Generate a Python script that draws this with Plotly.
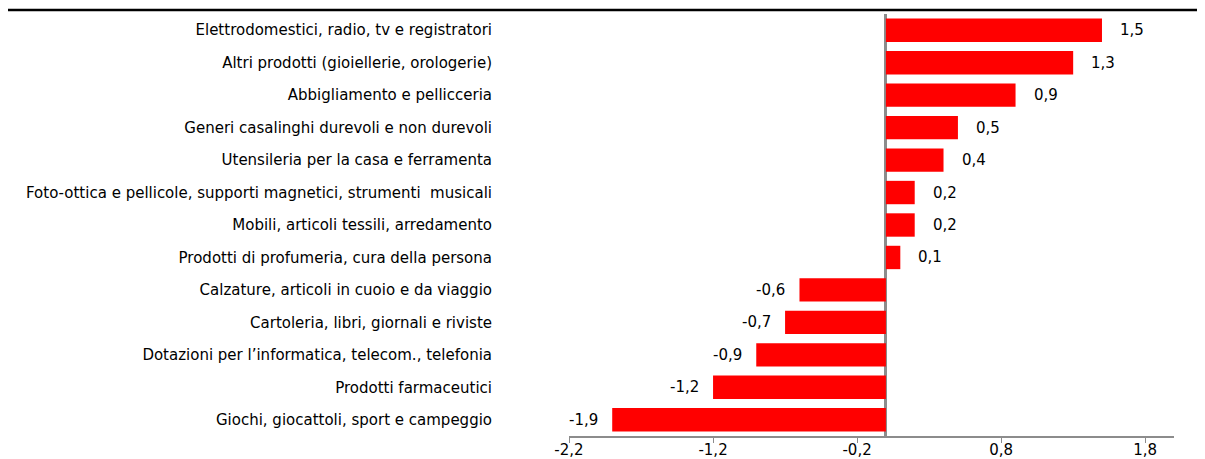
import plotly.graph_objects as go

categories = [
    "Elettrodomestici, radio, tv e registratori",
    "Altri prodotti (gioiellerie, orologerie)",
    "Abbigliamento e pellicceria",
    "Generi casalinghi durevoli e non durevoli",
    "Utensileria per la casa e ferramenta",
    "Foto-ottica e pellicole, supporti magnetici, strumenti  musicali",
    "Mobili, articoli tessili, arredamento",
    "Prodotti di profumeria, cura della persona",
    "Calzature, articoli in cuoio e da viaggio",
    "Cartoleria, libri, giornali e riviste",
    "Dotazioni per l\u2019informatica, telecom., telefonia",
    "Prodotti farmaceutici",
    "Giochi, giocattoli, sport e campeggio",
]
values = [1.5, 1.3, 0.9, 0.5, 0.4, 0.2, 0.2, 0.1, -0.6, -0.7, -0.9, -1.2, -1.9]
tick_values = [-2.2, -1.2, -0.2, 0.8, 1.8]
tick_labels = ["-2,2", "-1,2", "-0,2", "0,8", "1,8"]

FONT = "DejaVu Sans, Verdana, sans-serif"

W, H = 1197, 451
ML, MR, MT, MB = 561, 31, 6, 23
PW, PH = W - ML - MR, H - MT - MB

fig = go.Figure()
fig.add_trace(go.Bar(
    x=values, y=categories, orientation="h",
    marker=dict(color="#FF0000", line=dict(width=0)),
    width=0.72,
    hoverinfo="x+y",
))

for v, c in zip(values, categories):
    txt = f"{v:.1f}".replace(".", ",")
    fig.add_annotation(
        x=v, y=c, xref="x", yref="y", text=txt, showarrow=False,
        xanchor="left" if v >= 0 else "right",
        xshift=16 if v >= 0 else -12,
        font=dict(family=FONT, size=15, color="#000000"),
    )

fig.add_shape(type="line", xref="paper", yref="paper",
              x0=-ML / PW, x1=(W - ML) / PW, y0=1 + 4 / PH, y1=1 + 4 / PH,
              line=dict(color="#000000", width=2.5))

fig.update_layout(
    width=W, height=H,
    margin=dict(l=ML, r=MR, t=MT, b=MB, pad=0, autoexpand=False),
    paper_bgcolor="white", plot_bgcolor="white",
    showlegend=False,
    font=dict(family=FONT, size=15, color="#000000"),
    xaxis=dict(
        range=[-2.2, 2.0],
        tickvals=tick_values, ticktext=tick_labels,
        showgrid=False,
        zeroline=True, zerolinecolor="#8c8c8c", zerolinewidth=3,
        showline=True, linecolor="#8c8c8c", linewidth=1.5,
        ticks="outside", ticklen=5, tickcolor="#8c8c8c", tickwidth=1,
        ticklabelstandoff=-6,
        tickfont=dict(family=FONT, size=15, color="#000000"),
        automargin=False,
        fixedrange=True,
    ),
    yaxis=dict(
        categoryorder="array", categoryarray=categories,
        autorange="reversed",
        showgrid=False, showline=False, ticks="",
        ticklabelstandoff=76,
        tickfont=dict(family=FONT, size=15, color="#000000"),
        automargin=False,
        fixedrange=True,
    ),
)

fig.write_html("out.html")
